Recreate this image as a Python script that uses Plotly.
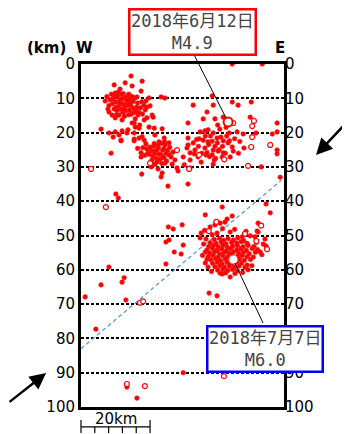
import plotly.graph_objects as go

# ---------------- data (km) ----------------
# filled hypocenters: horizontal distance W->E (km), depth (km)
filled_x = [
 # upper-left cluster
 14.5,17.7,9.6,12.8,14.8,11.3,17.4,7.0,9.9,9.6,13.9,16.2,19.7,23.2,24.3,20.0,18.6,20.6,19.1,8.1,9.0,9.9,11.9,15.7,15.4,16.8,19.7,23.5,21.4,5.8,8.1,9.9,11.0,11.9,13.3,9.3,11.6,15.4,16.8,18.3,7.8,11.0,16.5,20.9,18.3,14.8,15.7,17.0,21.2,24.1,17.7,13.6,15.4,
 9.4,10.1,10.6,11.2,11.6,12.1,12.4,13.1,13.6,14.1,14.4,15.1,15.6,16.1,16.4,10.2,10.4,11.1,11.4,12.1,12.6,12.9,13.4,14.1,14.6,15.2,15.4,16.1,9.1,9.6,8.4,8.1,10.8,12.2,13.8,11.3,12.8,13.2,14.8,10.3,12.6,13.8,17.2,17.6,18.2,7.5,8.8,11.8,14.2,12.4,16.8,17.8,19.0,18.8,
 # middle cluster
 8.7,11.6,15.4,17.4,17.4,18.8,20.3,21.4,22.3,23.5,23.2,25.2,27.8,28.1,29.6,29.9,31.0,31.6,31.0,25.5,24.1,24.3,26.4,27.2,25.5,24.3,22.6,20.0,19.4,17.6,
 20.1,20.6,21.1,21.4,22.1,22.4,23.1,23.6,24.0,24.6,25.1,20.8,21.8,22.9,23.8,21.2,22.2,23.2,24.2,19.7,19.0,25.7,26.1,21.7,22.6,20.5,23.4,22.0,24.8,18.5,17.9,26.6,16.4,
 # upper-right cluster
 32.5,38.0,43.8,45.5,49.3,31.0,36.5,38.3,35.4,38.8,41.2,49.0,56.8,34.5,35.9,38.3,42.9,45.2,47.0,50.7,55.4,56.8,31.0,32.5,35.4,36.8,39.4,41.2,42.6,43.8,44.1,30.7,33.0,35.9,38.3,39.7,41.2,31.6,33.9,34.8,36.2,38.6,40.9,43.2,56.8,56.8,52.2,38.3,31.6,
 36.0,37.0,37.5,38.0,38.8,39.5,40.0,40.5,41.0,41.8,36.5,37.2,38.0,39.0,34.0,33.5,32.8,35.0,42.2,43.0,44.5,46.0,47.2,45.6,40.2,36.8,34.2,39.6,42.0,
 # scattered right side
 57.7,53.6,54.8,36.0,40.9,43.8,51.3,51.3,
 # lower cluster rim
 37.4,38.8,40.3,41.7,42.3,34.8,36.2,39.4,43.2,46.7,49.0,50.4,51.0,53.3,52.8,53.6,51.9,49.9,48.1,48.4,43.2,40.9,36.8,36.5,34.5,36.0,
 # lower cluster core
 38.6,40.1,41.3,42.6,44.1,45.4,47.1,
 37.4,39.1,40.6,42.0,43.6,45.1,46.4,48.1,
 37.0,38.3,39.7,41.1,42.3,43.9,45.3,46.9,48.4,50.1,
 36.5,38.1,39.4,40.8,42.2,43.4,45.1,46.3,47.9,49.6,51.1,
 37.3,38.7,40.1,41.5,42.9,44.1,45.7,47.1,48.7,50.5,
 36.9,38.3,39.7,41.1,42.5,43.7,45.3,46.7,48.1,
 37.6,39.0,40.4,41.8,43.2,45.9,47.3,49.1,
 38.1,39.5,40.9,42.3,43.7,45.1,46.5,
 38.8,40.2,41.6,43.0,44.4,45.8,
 39.6,41.1,42.5,43.9,45.3,
 40.3,41.9,44.6,
 35.5,35.2,36.0,37.8,46.8,47.5,49.5,52.4,50.8,35.8,44.5,47.8,41.0,38.0,
 # scattered elsewhere
 10.1,10.8,25.3,26.7,24.6,25.5,27.0,24.6,8.1,5.8,12.5,11.9,1.2,13.0,4.3,29.6,13.3,16.2,37.1,39.4,43.8,52.5,29.3,29.0,29.6,
]
filled_depth = [
 3.5,5.0,6.1,5.5,6.4,7.3,7.9,10.8,8.5,9.6,9.0,9.6,9.9,9.6,9.9,12.2,13.4,14.9,15.7,14.0,14.9,15.7,16.3,16.0,17.2,18.7,18.4,18.9,20.7,19.0,20.1,19.8,20.7,19.5,20.1,21.3,22.2,21.9,21.6,22.2,13.1,14.9,14.9,15.5,16.3,17.2,18.4,17.8,18.7,21.6,21.2,19.2,20.1,
 10.2,11.1,9.4,10.6,8.9,11.6,9.9,9.6,11.1,10.4,12.1,10.9,9.9,12.6,11.4,12.6,13.6,11.9,13.1,14.1,12.4,13.6,12.1,13.4,14.6,12.9,14.1,13.7,11.6,13.1,10.4,12.1,8.2,8.6,8.8,11.2,11.8,10.6,9.5,14.8,15.2,14.8,12.8,11.0,12.0,9.5,8.8,10.2,11.4,13.2,14.2,14.6,12.6,10.8,
 26.0,22.4,22.4,25.9,27.1,23.3,30.0,29.2,30.6,31.8,32.9,35.6,30.3,31.2,27.1,29.4,35.0,25.9,23.6,26.5,27.4,28.9,29.2,28.0,23.0,23.6,22.7,24.2,25.9,32.1,
 24.6,25.4,23.9,26.1,25.0,24.2,26.4,25.1,24.7,26.1,25.2,26.9,27.5,27.8,27.2,23.2,23.7,23.1,22.7,26.3,24.7,24.3,27.1,25.2,26.3,28.1,29.0,28.6,28.3,26.6,24.4,25.7,24.6,
 12.0,9.3,11.1,12.0,11.1,17.2,14.0,12.0,16.0,16.0,15.5,15.5,17.2,19.8,19.5,20.1,20.1,19.8,20.4,20.1,20.4,19.8,21.6,23.0,22.2,22.7,21.6,22.4,23.0,24.2,25.4,24.5,25.1,24.5,25.1,25.4,25.9,28.0,27.1,28.6,26.5,28.0,27.1,27.1,25.1,26.2,30.0,29.2,30.3,
 21.0,23.5,21.0,22.5,24.0,23.0,25.0,21.3,24.0,26.0,25.8,27.0,26.5,27.5,24.0,22.0,26.2,26.0,21.0,22.4,21.8,22.6,24.5,26.0,19.0,19.2,21.8,17.8,18.5,
 33.0,40.8,43.4,44.0,41.7,44.3,46.4,49.0,
 47.5,46.9,46.4,46.1,45.2,49.3,51.0,49.3,49.0,50.4,50.1,50.4,48.7,51.0,52.5,53.1,54.8,56.3,58.6,60.0,62.1,61.2,59.2,56.9,50.7,54.8,
 51.2,50.8,51.4,50.9,51.3,50.7,51.5,
 52.1,52.3,51.9,52.4,52.0,52.2,51.8,52.3,
 53.2,52.9,53.3,52.8,53.4,53.1,52.9,53.3,52.9,53.2,
 54.2,53.8,54.3,53.9,54.4,53.8,54.2,53.9,54.3,53.8,54.1,
 55.1,54.8,55.3,54.9,55.2,54.8,55.2,54.9,55.3,54.9,
 56.1,55.8,56.3,55.9,56.2,55.7,56.1,55.8,56.2,
 57.1,56.8,57.3,56.9,57.2,56.9,57.2,57.0,
 58.1,57.8,58.3,57.9,58.2,57.8,58.1,
 59.1,58.8,59.3,58.9,59.2,58.9,
 60.1,59.8,60.2,59.9,60.3,
 61.0,60.9,61.1,
 52.5,55.8,58.0,60.5,60.8,59.3,58.8,55.6,52.0,48.5,48.2,48.8,48.0,49.8,
 37.9,39.1,47.5,48.1,51.9,51.3,54.8,58.3,59.2,64.4,62.3,63.6,67.9,68.8,77.3,90.0,94.2,97.4,66.8,67.6,0.0,0.0,46.9,55.4,52.8,
]

# open-circle hypocenters
open_x = [20.0,31.3,27.8,44.1,50.1,49.6,49.6,49.3,54.8,48.4,34.2,41.5,
          52.2,50.8,53.9,37.0,47.5,39.2,
          2.9,7.2,17.1,18.0,13.3,18.5,41.4]
open_depth = [28.9,30.6,25.1,17.2,16.6,18.1,21.3,24.2,23.6,29.7,26.5,27.8,
              47.1,51.6,54.0,48.7,49.5,46.0,
              30.6,41.7,69.6,69.2,93.3,93.9,91.0]

# main events
ev_label = ["2018年6月12日<br>M4.9", "2018年7月7日<br>M6.0"]
ev_x = [42.6, 44.1]
ev_depth = [16.9, 57.0]

# plate boundary (dashed) line
plate_x = [0.0, 58.0]
plate_depth = [83.0, 33.9]

X_MAX = 58.8
depth_ticks = list(range(0, 101, 10))
scale_km = 20

# ---------------- figure ----------------
fig = go.Figure()

fig.add_trace(go.Scatter(x=plate_x, y=plate_depth, mode="lines",
                         line=dict(color="#5b9bd5", width=1.3, dash="4px,3px"),
                         hoverinfo="skip", showlegend=False))
fig.add_trace(go.Scatter(x=filled_x, y=filled_depth, mode="markers",
                         marker=dict(size=4.6, color="#ff0000", line=dict(color="#ff1a1a", width=0.6)),
                         cliponaxis=False, showlegend=False))
fig.add_trace(go.Scatter(x=open_x, y=open_depth, mode="markers",
                         marker=dict(size=5, color="white", line=dict(color="#ff0000", width=1.2)),
                         cliponaxis=False, showlegend=False))
fig.add_trace(go.Scatter(x=ev_x[:1], y=ev_depth[:1], mode="markers",
                         marker=dict(size=9, color="white", line=dict(color="#ff0000", width=2)),
                         showlegend=False))
fig.add_trace(go.Scatter(x=ev_x[1:], y=ev_depth[1:], mode="markers",
                         marker=dict(size=9, color="white", line=dict(color="#ff3030", width=0.8)),
                         showlegend=False))
# invisible trace for right axis
fig.add_trace(go.Scatter(x=[0], y=[0], yaxis="y2", mode="markers",
                         marker=dict(opacity=0), hoverinfo="skip", showlegend=False))

tickfont = dict(family="DejaVu Sans", size=15, color="black")
# page body adds an 8px margin, so the figure is 8px smaller than the window
fig.update_layout(
    width=342, height=426,
    margin=dict(l=73, r=66, t=56, b=27, autoexpand=False),
    paper_bgcolor="white", plot_bgcolor="white",
    xaxis=dict(range=[0, X_MAX], showgrid=False, zeroline=False, showticklabels=False,
               ticks="", showline=True, linewidth=3, linecolor="black", mirror=True),
    yaxis=dict(range=[100, 0], tickvals=depth_ticks, ticktext=[str(t) for t in depth_ticks],
               showgrid=True, gridcolor="black", gridwidth=1.6, griddash="3px,2px",
               zeroline=False, ticks="", showline=True, linewidth=3, linecolor="black",
               mirror=True, tickfont=tickfont, automargin=False),
    yaxis2=dict(range=[100, 0], overlaying="y", side="right", tickvals=depth_ticks,
                ticktext=[str(t) for t in depth_ticks], showgrid=False, zeroline=False,
                ticks="", showline=False, tickfont=tickfont, automargin=False),
)

def km2paper_x(km):
    return km / X_MAX

anns = []
hdr_font = dict(family="DejaVu Sans", size=15, color="black")
for txt, xp in [("<b>(km)</b>", -0.172), ("<b>W</b>", 0.015), ("<b>E</b>", 0.98)]:
    anns.append(dict(text=txt, xref="paper", yref="paper", x=xp, y=1.047,
                     xanchor="center", yanchor="middle", showarrow=False, font=hdr_font))

# leader lines
leader_tail = [(32.5, -3.2), (53.0, 76.1)]
for i in range(2):
    anns.append(dict(text=" ", x=ev_x[i], y=ev_depth[i], xref="x", yref="y",
                     ax=leader_tail[i][0], ay=leader_tail[i][1], axref="x", ayref="y",
                     showarrow=True, arrowhead=0, arrowwidth=1, arrowcolor="black",
                     standoff=4, font=dict(size=1)))
# label boxes (paper coordinates)
box_pos = [(0.547, 1.093), (0.906, 0.169)]
box_col = ["#ff0000", "#0000ff"]
for i in range(2):
    anns.append(dict(text=ev_label[i], x=box_pos[i][0], y=box_pos[i][1], xref="paper", yref="paper",
                     xanchor="center", yanchor="middle",
                     showarrow=False, bgcolor="white", bordercolor=box_col[i], borderwidth=2.5,
                     borderpad=0.5, align="center",
                     font=dict(family="DejaVu Sans Mono, Noto Sans CJK JP", size=17, color="#444444")))
# big arrows
anns.append(dict(text="", xref="paper", yref="paper", x=-0.172, y=0.099, ax=-38, ay=30,
                 showarrow=True, arrowhead=2, arrowsize=1.3, arrowwidth=2.5, arrowcolor="black"))
anns.append(dict(text="", xref="paper", yref="paper", x=1.158, y=0.735, ax=32, ay=-34,
                 showarrow=True, arrowhead=2, arrowsize=1.3, arrowwidth=2.5, arrowcolor="black"))
# scale bar label
anns.append(dict(text="20km", xref="paper", yref="paper", x=km2paper_x(scale_km / 2), y=-0.035,
                 xanchor="center", yanchor="middle",
                 showarrow=False, font=dict(family="DejaVu Sans", size=15, color="black")))
fig.update_layout(annotations=anns)

# scale bar
shapes = []
bar_y = -0.058
shapes.append(dict(type="line", xref="paper", yref="paper", x0=0, x1=km2paper_x(scale_km),
                   y0=bar_y, y1=bar_y, line=dict(color="black", width=1.2)))
for k in range(0, scale_km + 1, 4):
    end = k in (0, scale_km)
    shapes.append(dict(type="line", xref="paper", yref="paper", x0=km2paper_x(k), x1=km2paper_x(k),
                       y0=bar_y + (0.02 if end else 0.0), y1=bar_y - 0.018,
                       line=dict(color="black", width=1.2)))
fig.update_layout(shapes=shapes)

fig.write_html("out.html")
